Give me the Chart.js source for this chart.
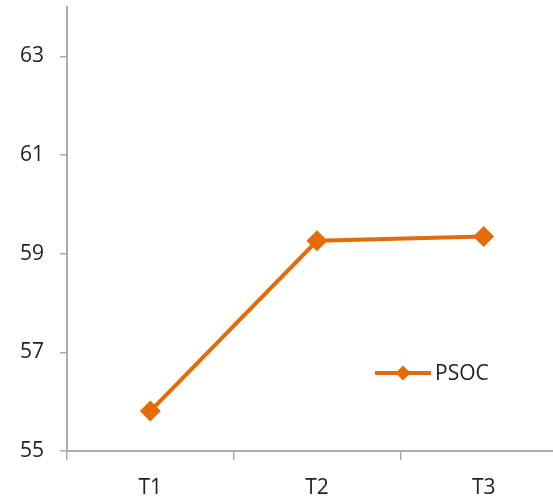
<!DOCTYPE html>
<html>
<head>
<meta charset="utf-8">
<script src="https://cdn.jsdelivr.net/npm/chart.js@4/dist/chart.umd.min.js"></script>
<style>
  html, body { margin: 0; padding: 0; background: #fff; overflow: hidden; }
  #wrap { width: 570px; height: 499px; position: relative; }
</style>
</head>
<body>
<div id="wrap"><canvas id="c" width="570" height="499"></canvas></div>
<script>
// Measurement occasions and PSOC means
const categories = ['T1', 'T2', 'T3'];
const psocValues = [55.81, 59.26, 59.35];
const seriesLabel = 'PSOC';
const yTickValues = [55, 57, 59, 61, 63];

const ORANGE = '#E36C09';
const AXIS = '#ABABAB';
const FONT = { family: '"Open Sans", sans-serif', size: 21 };

// Legend drawn inside the plot area, right-hand side
const innerLegend = {
  id: 'innerLegend',
  afterDraw(chart) {
    const ctx = chart.ctx;
    const ds = chart.data.datasets[0];
    const x0 = 375, x1 = 431, y = 373;
    ctx.save();
    ctx.strokeStyle = ds.borderColor;
    ctx.lineWidth = 4;
    ctx.lineCap = 'butt';
    ctx.beginPath();
    ctx.moveTo(x0, y);
    ctx.lineTo(x1, y);
    ctx.stroke();
    const cx = (x0 + x1) / 2, r = 7.5;
    ctx.fillStyle = ds.pointBackgroundColor;
    ctx.beginPath();
    ctx.moveTo(cx, y - r);
    ctx.lineTo(cx + r, y);
    ctx.lineTo(cx, y + r);
    ctx.lineTo(cx - r, y);
    ctx.closePath();
    ctx.fill();
    ctx.fillStyle = '#222';
    ctx.font = FONT.size + 'px ' + FONT.family;
    ctx.textBaseline = 'middle';
    ctx.textAlign = 'left';
    ctx.fillText(ds.label, 435, y + 1);
    ctx.restore();
  }
};

new Chart(document.getElementById('c'), {
  type: 'line',
  data: {
    labels: categories,
    datasets: [{
      label: seriesLabel,
      data: psocValues,
      borderColor: ORANGE,
      backgroundColor: ORANGE,
      borderWidth: 4,
      tension: 0,
      pointStyle: 'rectRot',
      pointRadius: 10.5,
      pointBorderWidth: 0,
      pointBackgroundColor: ORANGE,
      pointBorderColor: ORANGE
    }]
  },
  options: {
    responsive: false,
    animation: false,
    // the plot runs slightly past the visible right edge
    layout: { autoPadding: false, padding: { top: 7, right: 3, left: 0, bottom: 0 } },
    plugins: { legend: { display: false }, tooltip: { enabled: false } },
    scales: {
      x: {
        offset: true,
        grid: { display: true, drawOnChartArea: false, offset: true, tickLength: 9, color: AXIS, lineWidth: 1.5 },
        border: { display: true, color: AXIS, width: 2 },
        ticks: { color: '#222', font: FONT, padding: 15, maxRotation: 0 },
        afterFit(s) { s.height = 48; s.paddingLeft = 0; s.paddingRight = 0; }
      },
      y: {
        min: 55,
        max: 64,
        grid: { display: true, drawOnChartArea: false, tickLength: 7, color: AXIS, lineWidth: 1.5 },
        border: { display: true, color: AXIS, width: 2 },
        ticks: { color: '#222', font: FONT, padding: 16 },
        afterBuildTicks(s) { s.ticks = yTickValues.map(v => ({ value: v })); },
        afterFit(s) { s.width = 67; s.paddingTop = 0; s.paddingBottom = 0; }
      }
    }
  },
  plugins: [innerLegend]
});
</script>
</body>
</html>
